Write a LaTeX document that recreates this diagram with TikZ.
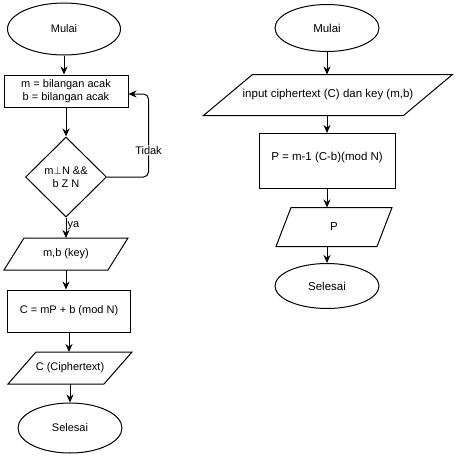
\documentclass[tikz,border=0pt]{standalone}
\usepackage{fontspec}
\setmainfont{Liberation Sans}
\usetikzlibrary{shapes.geometric,arrows.meta}
\tikzset{
  terminal/.style 2 args={ellipse,draw,minimum width=#1,minimum height=#2,inner sep=0pt}, % mulai / selesai
  process/.style 2 args={rectangle,draw,minimum width=#1,minimum height=#2,align=center},
  io/.style 2 args={rectangle,minimum width=#1,minimum height=#2,inner sep=0pt}, % outline drawn by \iobox
  decision/.style={diamond,draw,inner sep=0pt,align=center},
  arr/.style={-{Stealth[length=8pt,width=7pt]}},
}
% parallelogram round a named io node: #1 node, #2 slant
\newcommand\iobox[2]{%
  \draw ([xshift=#2]#1.north west) -- (#1.north east)
    -- ([xshift=-#2]#1.south east) -- (#1.south west) -- cycle;}

\begin{document}
\begin{tikzpicture}[x=1pt,y=-1pt,line width=1pt,font=\fontsize{11}{13}\selectfont]
		\useasboundingbox (0,0) rectangle (462,474);

		% enkripsi
		\node[terminal={113pt}{52pt}] (mulai1) at (64,29) {Mulai};
		\node[process={124pt}{32pt}] (acak) at (66,91) {m = bilangan acak\\b = bilangan acak};
		\node[decision,minimum width=81pt,minimum height=80pt] (cek) at (66,177) {m$\perp$N \&\&\\b Z N};
		\node[io={123pt}{31pt}] (key) at (66,254) {m,b (key)};
		\node[process={123pt}{42pt}] (enkripsi) at (69,311) {C = mP + b (mod N)};
		\node[io={123pt}{31pt}] (cipher) at (70,368) {C (Ciphertext)};
		\node[terminal={104pt}{50pt}] (selesai1) at (70,428) {Selesai};
		\iobox{key}{20pt}
		\iobox{cipher}{28pt}

		\draw[arr] (mulai1) -- (mulai1 |- acak.north);
		\draw[arr] (acak) -- (acak |- cek.north);
		\draw[arr] (cek) -- node[right,pos=0.4,inner sep=1pt] {ya} (cek |- key.north);
		\draw[arr] (key) -- (key |- enkripsi.north);
		\draw[arr] (enkripsi) -- (enkripsi |- cipher.north);
		\draw[arr] (cipher) -- (cipher |- selesai1.north);
		\draw[arr,rounded corners=5pt] (cek.east)
		  -| node[pos=0.66,fill=white,inner sep=1pt] {Tidak} ([xshift=20pt,yshift=-3pt]acak.east)
		  -- ([yshift=-3pt]acak.east);

		% dekripsi
		\begin{scope}[font=\fontsize{11.5}{13.5}\selectfont]
		\node[terminal={104pt}{47pt}] (mulai2) at (327,28) {Mulai};
		\node[io={248pt}{40pt}] (input) at (328,95) {input ciphertext (C) dan key (m,b)};
		\node[process={136pt}{55pt},text depth=10pt] (dekripsi) at (327,161) {P = m-1 (C-b)(mod N)};
		\node[io={115pt}{38pt}] (plain) at (334,227) {P};
		\node[terminal={104pt}{45pt}] (selesai2) at (327,286) {Selesai};
		\end{scope}
		\iobox{input}{49pt}
		\iobox{plain}{15pt}

		\draw[arr] (mulai2) -- (mulai2 |- input.north);
		\draw[arr] (mulai2 |- input.south) -- (mulai2 |- dekripsi.north);
		\draw[arr] (dekripsi) -- (dekripsi |- plain.north);
		\draw[arr] (dekripsi |- plain.south) -- (selesai2);

\end{tikzpicture}
\end{document}
